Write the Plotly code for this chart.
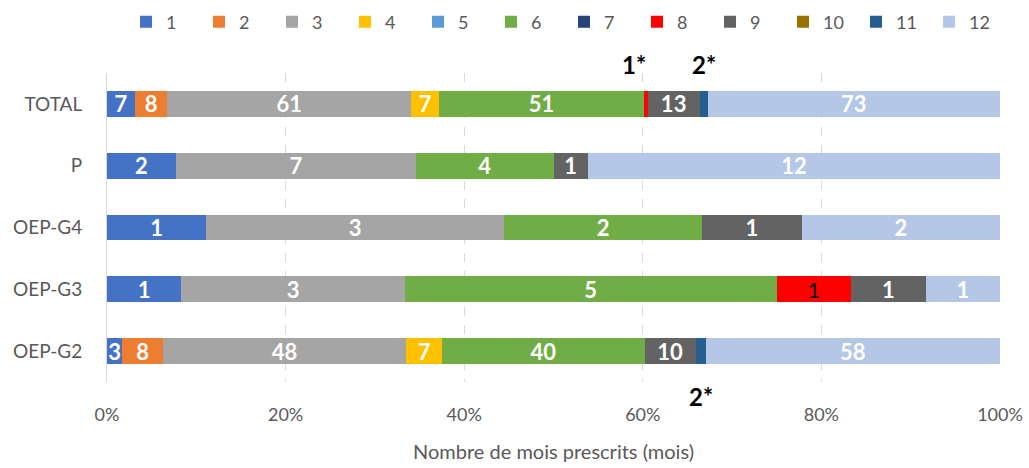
import plotly.graph_objects as go

categories = ['OEP-G2', 'OEP-G3', 'OEP-G4', 'P', 'TOTAL']
series_names = ['1', '2', '3', '4', '5', '6', '7', '8', '9', '10', '11', '12']
s1 = [3, 1, 1, 2, 7]
s2 = [8, 0, 0, 0, 8]
s3 = [48, 3, 3, 7, 61]
s4 = [7, 0, 0, 0, 7]
s5 = [0, 0, 0, 0, 0]
s6 = [40, 5, 2, 4, 51]
s7 = [0, 0, 0, 0, 0]
s8 = [0, 1, 0, 0, 1]
s9 = [10, 1, 1, 1, 13]
s10 = [0, 0, 0, 0, 0]
s11 = [2, 0, 0, 0, 2]
s12 = [58, 1, 2, 12, 73]
series = [s1, s2, s3, s4, s5, s6, s7, s8, s9, s10, s11, s12]
tick_values = [0, 20, 40, 60, 80, 100]
tick_labels = ['0%', '20%', '40%', '60%', '80%', '100%']
colors = ['#4472C4', '#ED7D31', '#A5A5A5', '#FFC000', '#5B9BD5', '#70AD47',
          '#264478', '#FF0000', '#636363', '#997300', '#255E91', '#B4C7E7']
# labels shown outside the bars (series index, category, text, side, xshift)
outside_labels = [(7, 'TOTAL', '1*', 'above', -12), (10, 'TOTAL', '2*', 'above', 0),
                  (10, 'OEP-G2', '2*', 'below', 0)]

FONT = 'Lato, Calibri, Open Sans, sans-serif'
W, H = 1029, 468
ML, MR = 10, 10
PX0, PX1 = 107, 1000

fig = go.Figure()
skip = {(s, c) for s, c, _, _, _ in outside_labels}
for i, (name, vals, col) in enumerate(zip(series_names, series, colors)):
    txt = []
    for c, v in zip(categories, vals):
        txt.append(str(v) if v > 0 and (i, c) not in skip else '')
    black = (i == 7)
    fig.add_trace(go.Bar(
        y=categories, x=vals, name=name, orientation='h',
        marker=dict(color=col, line=dict(width=0)),
        text=txt, textposition='inside', insidetextanchor='middle', textangle=0,
        textfont=dict(family=FONT, size=22, color='black' if black else 'white',
                      weight='normal' if black else 'bold'),
        hoverinfo='x+y+name',
    ))

totals = [sum(s[k] for s in series) for k in range(len(categories))]
for si, cat, label, pos, xs in outside_labels:
    k = categories.index(cat)
    before = sum(series[j][k] for j in range(si))
    xc = (before + series[si][k] / 2) / totals[k] * 100
    fig.add_annotation(x=xc, y=cat, text='<b>' + label + '</b>', showarrow=False,
                       xshift=xs, yshift=39 if pos == 'above' else -45,
                       font=dict(family=FONT, size=24, color='black'))

avail = W - ML - MR
fig.update_layout(
    barmode='stack', barnorm='percent', bargap=0.58,
    width=W, height=H,
    margin=dict(l=ML, r=MR, t=73, b=86, autoexpand=False),
    paper_bgcolor='white', plot_bgcolor='white',
    font=dict(family=FONT, color='#595959'),
    legend=dict(orientation='h', x=(126 - ML) / avail, xanchor='left', y=1.165,
                yanchor='middle',
                font=dict(size=18, color='#595959'), traceorder='normal',
                entrywidth=28, entrywidthmode='pixels', itemclick=False),
    showlegend=True,
    xaxis=dict(range=[0, 100], tickvals=tick_values, ticktext=tick_labels,
               domain=[(PX0 - ML) / avail, (PX1 - ML) / avail],
               showgrid=True, gridcolor='#D9D9D9', griddash='dash', gridwidth=1,
               zeroline=False, tickfont=dict(size=18, color='#595959'),
               ticks='', ticklabelstandoff=20,
               title=dict(text='Nombre de mois prescrits (mois)',
                          font=dict(size=20, color='#595959'), standoff=20),
               fixedrange=True),
    yaxis=dict(categoryorder='array', categoryarray=categories,
               range=[-0.5, len(categories) - 0.5], autorange=False,
               showline=True, linecolor='#D9D9D9', linewidth=1,
               tickfont=dict(size=19, color='#595959'), ticks='', ticklabelstandoff=20,
               fixedrange=True),
    uniformtext=dict(minsize=22, mode='show'),
)
fig.write_html('out.html', config={'displayModeBar': False},
               post_script="document.body.style.margin='0';")
